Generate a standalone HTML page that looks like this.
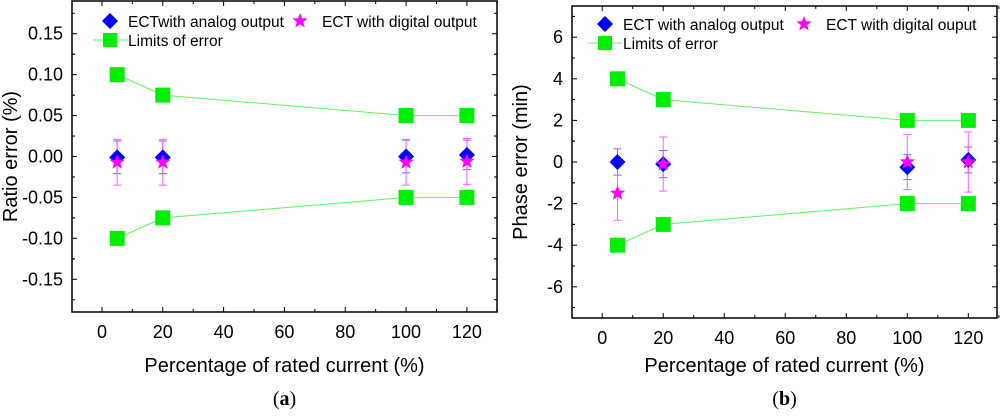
<!DOCTYPE html>
<html><head><meta charset="utf-8"><style>
body{margin:0;background:#fff;width:1000px;height:412px;overflow:hidden}
svg{font-family:"Liberation Sans",Arial,sans-serif}
</style></head><body>
<svg id="s" width="1000" height="412" xmlns="http://www.w3.org/2000/svg"></svg>
<script>
const xCats=[5,20,100,120];
const aAnalog=[-0.001,-0.001,0,0.002];
const aAnalogErr=[0.02,0.02,0.02,0.018];
const aDigital=[-0.007,-0.007,-0.007,-0.006];
const aDigitalErr=[0.028,0.028,0.028,0.028];
const aLimUp=[0.1,0.075,0.05,0.05];
const aLimLo=[-0.1,-0.075,-0.05,-0.05];
const aTicks=["0.15","0.10","0.05","0.00","-0.05","-0.10","-0.15"];
const bAnalog=[0,-0.1,-0.25,0.1];
const bAnalogErr=[0.63,0.65,0.6,0.62];
const bDigital=[-1.5,-0.1,0,0];
const bDigitalErr=[1.3,1.3,1.33,1.45];
const bLimUp=[4,3,2,2];
const bLimLo=[-4,-3,-2,-2];
const bTicks=["6","4","2","0","-2","-4","-6"];
const xTicks=["0","20","40","60","80","100","120"];
const S=document.getElementById('s');
const NS="http://www.w3.org/2000/svg";
function el(t,a,txt){const e=document.createElementNS(NS,t);for(const k in a)e.setAttribute(k,a[k]);if(txt!==undefined)e.textContent=txt;S.appendChild(e);return e;}
function star(cx,cy,r){let p=[];for(let i=0;i<10;i++){const rr=i%2?r*0.42:r;const a=-Math.PI/2+i*Math.PI/5;p.push((cx+rr*Math.cos(a)).toFixed(1)+','+(cy+rr*Math.sin(a)).toFixed(1));}return p.join(' ');}
function panel(o){
  const X=v=>o.x0+(v-o.xmin)/(o.xmax-o.xmin)*(o.x1-o.x0);
  const Y=v=>o.y1-(v-o.ymin)/(o.ymax-o.ymin)*(o.y1-o.y0);
  let e=el('rect',{x:o.x0,y:o.y0,width:o.x1-o.x0,height:o.y1-o.y0,fill:'none',stroke:'#000','stroke-width':1.5});
  
  xTicks.forEach((t,i)=>{const v=+t;const px=X(v);
    el('line',{x1:px,y1:o.y1,x2:px,y2:o.y1-5,stroke:'#000'});el('line',{x1:px,y1:o.y0,x2:px,y2:o.y0+5,stroke:'#000'});
    el('line',{x1:X(v+10),y1:o.y1,x2:X(v+10),y2:o.y1-3,stroke:'#000'});el('line',{x1:X(v+10),y1:o.y0,x2:X(v+10),y2:o.y0+3,stroke:'#000'});
    e=el('text',{x:px,y:o.y1+26,'font-size':18,'text-anchor':'middle'},t);
    });
  o.ticks.forEach(t=>{const v=+t;const py=Y(v);const h=o.minor;
    el('line',{x1:o.x0,y1:py,x2:o.x0+5,y2:py,stroke:'#000'});el('line',{x1:o.x1,y1:py,x2:o.x1-5,y2:py,stroke:'#000'});
    [v+h,v-h].forEach(m=>{if(m<o.ymax&&m>o.ymin){el('line',{x1:o.x0,y1:Y(m),x2:o.x0+3,y2:Y(m),stroke:'#000'});el('line',{x1:o.x1,y1:Y(m),x2:o.x1-3,y2:Y(m),stroke:'#000'});}});
    e=el('text',{x:o.x0-9,y:py+6,'font-size':18,'text-anchor':'end'},t);
    });
  e=el('text',{x:(o.x0+o.x1)/2,y:372,'font-size':20,'text-anchor':'middle'},'Percentage of rated current (%)');
  
  e=el('text',{x:o.ylx,y:(o.y0+o.y1)/2,'font-size':20,'text-anchor':'middle',transform:`rotate(-90 ${o.ylx} ${(o.y0+o.y1)/2})`},o.ytitle);
  
  e=el('text',{x:(o.x0+o.x1)/2,y:405,'font-size':20,'text-anchor':'middle','font-family':'Liberation Serif,serif'},'');
  e.innerHTML='(<tspan font-weight="bold">'+o.id+'</tspan>)';
  
  [o.up,o.lo].forEach((arr,k)=>{
    e=el('polyline',{points:xCats.map((c,i)=>X(c)+','+Y(arr[i])).join(' '),fill:'none',stroke:'#5ef55e','stroke-width':1});
    
    xCats.forEach((c,i)=>{e=el('rect',{x:X(c)-7.5,y:Y(arr[i])-7.5,width:15,height:15,fill:'#00ee00'});
      });
  });
  function eb(arr,err,col,name){xCats.forEach((c,i)=>{const px=X(c),a=Y(arr[i]+err[i]),b=Y(arr[i]-err[i]);
    e=el('path',{d:`M${px},${a}V${b}M${px-4},${a}H${px+4}M${px-4},${b}H${px+4}`,stroke:col,'stroke-width':1,fill:'none'});
    });}
  eb(o.an,o.anE,'#6a6aff',o.id+'-analog-error-bar');
  eb(o.dg,o.dgE,'#ff60ff',o.id+'-digital-error-bar');
  xCats.forEach((c,i)=>{const px=X(c),py=Y(o.an[i]);
    e=el('polygon',{points:`${px},${py-8} ${px+8},${py} ${px},${py+8} ${px-8},${py}`,fill:'#0000ff'});
    });
  xCats.forEach((c,i)=>{e=el('polygon',{points:star(X(c),Y(o.dg[i]),8),fill:'#ff00ff'});
    });
  const L=o.leg;
  e=el('polygon',{points:`${L.x},${L.y-8} ${L.x+8},${L.y} ${L.x},${L.y+8} ${L.x-8},${L.y}`,fill:'#0000ff'});
  
  e=el('text',{x:L.x+18,y:L.y+6,'font-size':15.5},L.t1);
  
  e=el('polygon',{points:star(L.sx,L.y,8),fill:'#ff00ff'});
  
  e=el('text',{x:L.sx+22,y:L.y+6,'font-size':15.5},L.t2);
  
  el('line',{x1:L.x-17,y1:L.y+19,x2:L.x+17,y2:L.y+19,stroke:'#5ef55e'});
  e=el('rect',{x:L.x-7,y:L.y+12,width:14,height:14,fill:'#00ee00'});
  
  e=el('text',{x:L.x+18,y:L.y+25,'font-size':15.5},'Limits of error');
  
}
panel({id:'a',x0:72,x1:497,y0:1,y1:312,xmin:-9.85,xmax:129.9,ymin:-0.19,ymax:0.19,minor:0.025,ticks:aTicks,ylx:17,ytitle:'Ratio error (%)',
  up:aLimUp,lo:aLimLo,an:aAnalog,anE:aAnalogErr,dg:aDigital,dgE:aDigitalErr,
  leg:{x:110,y:21,sx:300,t1:'ECTwith analog output',t2:'ECT with digital output'}});
panel({id:'b',x0:572,x1:997,y0:6,y1:318,xmin:-9.9,xmax:129.4,ymin:-7.5,ymax:7.5,minor:1,ticks:bTicks,ylx:527,ytitle:'Phase error (min)',
  up:bLimUp,lo:bLimLo,an:bAnalog,anE:bAnalogErr,dg:bDigital,dgE:bDigitalErr,
  leg:{x:605,y:24,sx:804,t1:'ECT with analog output',t2:'ECT with digital ouput'}});
</script>
</body></html>
